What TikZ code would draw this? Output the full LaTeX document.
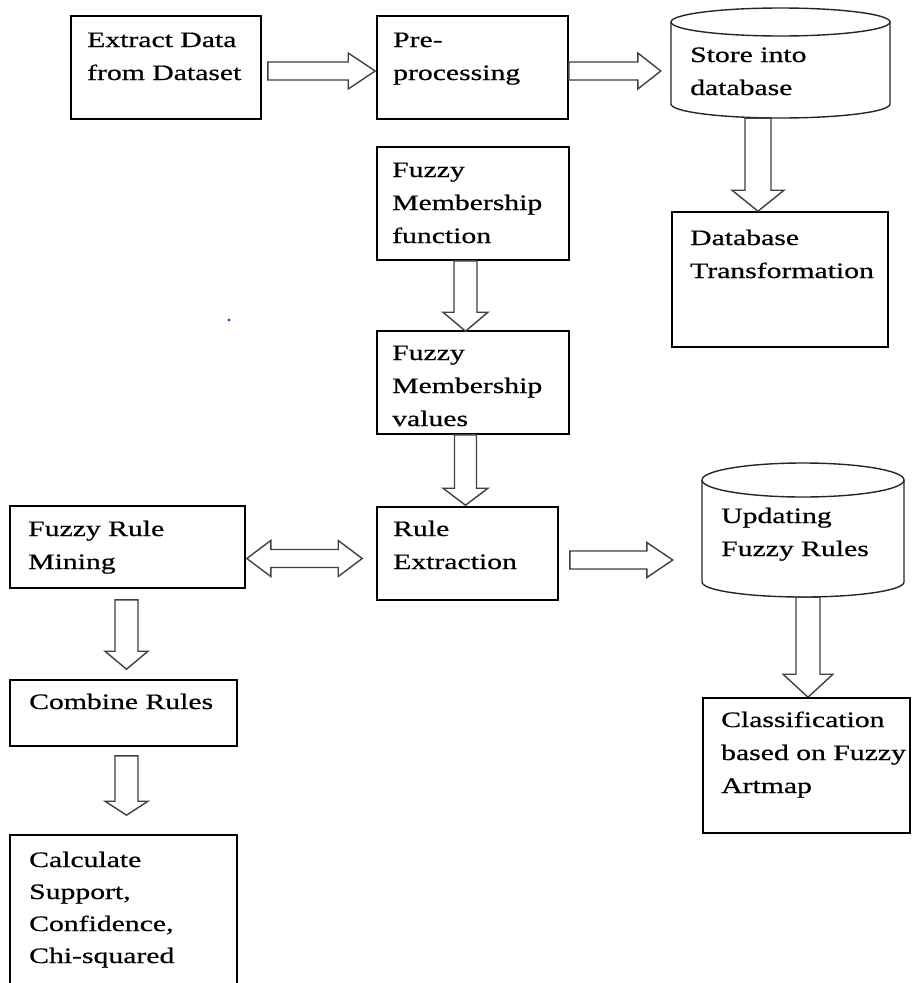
\documentclass[tikz,border=0pt]{standalone}
\usepackage{fontspec}
\setmainfont{Liberation Serif}[FakeStretch=1.35,FakeBold=0.6]
\usetikzlibrary{calc}
\newcommand\ml[1]{\begin{tabular}[t]{@{}l@{}}#1\end{tabular}}
% right-pointing block arrow: #1 start, #2 tip, #3 half shaft, #4 half head, #5 head length
\newcommand\rarrow[5]{%
 \draw[barrow] let \p1=#1, \p2=#2 in (\x1,\y2+#3) -- (\x2-#5,\y2+#3) -- (\x2-#5,\y2+#4) -- (\x2,\y2) -- (\x2-#5,\y2-#4) -- (\x2-#5,\y2-#3) -- (\x1,\y2-#3) -- cycle;}
% downward block arrow
\newcommand\darrow[5]{%
 \draw[barrow] let \p1=#1, \p2=#2 in (\x2-#3,\y1) -- (\x2-#3,\y2+#5) -- (\x2-#4,\y2+#5) -- (\x2,\y2) -- (\x2+#4,\y2+#5) -- (\x2+#3,\y2+#5) -- (\x2+#3,\y1) -- cycle;}
% double-headed horizontal block arrow: #1 left tip, #2 right tip
\newcommand\lrarrow[5]{%
 \draw[barrow] let \p1=#1, \p2=#2 in (\x1,\y1) -- (\x1+#5,\y1+#4) -- (\x1+#5,\y1+#3) -- (\x2-#5,\y1+#3) -- (\x2-#5,\y1+#4) -- (\x2,\y1) -- (\x2-#5,\y1-#4) -- (\x2-#5,\y1-#3) -- (\x1+#5,\y1-#3) -- (\x1+#5,\y1-#4) -- cycle;}
\begin{document}
\begin{tikzpicture}[x=1pt,y=-1pt,
  box/.style={draw=black, line width=1.6pt, fill=white, inner sep=0pt},
  ghost/.style={inner sep=0pt},
  txt/.style={inner sep=0pt, anchor=base west, font=\fontsize{22}{33}\selectfont, text=black},
  barrow/.style={draw=black!75, fill=white, line width=1.4pt, line join=miter},
  cyl/.style={draw=black!85, line width=1.4pt, fill=white}]
\useasboundingbox (0,0) rectangle (911,983);
\clip (0,0) rectangle (911,983);
\fill[white] (0,0) rectangle (911,983);

% boxes
\node[box, minimum width=190pt, minimum height=103pt] (ex) at (166,67.5) {};
\node[box, minimum width=191pt, minimum height=103pt] (pre) at (472.5,67.5) {};
\node[ghost, minimum width=219pt, minimum height=110pt] (store) at (780.5,63) {};
\node[box, minimum width=192pt, minimum height=113pt] (fmf) at (473,203.5) {};
\node[box, minimum width=216pt, minimum height=135pt] (dbt) at (780,279.5) {};
\node[box, minimum width=192pt, minimum height=103pt] (fmv) at (473,382.5) {};
\node[box, minimum width=235pt, minimum height=82pt] (frm) at (127.5,547) {};
\node[box, minimum width=181pt, minimum height=93pt] (rex) at (467.5,553.5) {};
\node[ghost, minimum width=202pt, minimum height=134pt] (upd) at (803,530) {};
\node[box, minimum width=227pt, minimum height=66pt] (cmb) at (123.5,713) {};
\node[box, minimum width=207pt, minimum height=135pt] (cls) at (806.5,765.5) {};
\node[box, minimum width=227pt, minimum height=160pt] (calc) at (123.5,915) {};

% cylinders
\draw[cyl] (671,22) -- (671,104) arc[start angle=180, end angle=360, x radius=109.5pt, y radius=14pt] -- (890,22);
\draw[cyl] (780.5,22) ellipse [x radius=109.5pt, y radius=14pt];
\draw[cyl] (702,480) -- (702,582) arc[start angle=180, end angle=360, x radius=101pt, y radius=15pt] -- (904,480);
\draw[cyl] (803,480) ellipse [x radius=101pt, y radius=17pt];

% texts
\node[txt] (ex-t) at (87,47) {\ml{Extract Data\\from Dataset}};
\node[txt] (pre-t) at (393,47) {\ml{Pre-\\processing}};
\node[txt] (store-t) at (690,62) {\ml{Store into\\database}};
\node[txt] (fmf-t) at (392,177) {\ml{Fuzzy\\Membership\\function}};
\node[txt] (dbt-t) at (690,245) {\ml{Database\\Transformation}};
\node[txt] (fmv-t) at (392,360) {\ml{Fuzzy\\Membership\\values}};
\node[txt] (frm-t) at (28,536) {\ml{Fuzzy Rule\\Mining}};
\node[txt] (rex-t) at (393,536) {\ml{Rule\\Extraction}};
\node[txt] (upd-t) at (721,523) {\ml{Updating\\Fuzzy Rules}};
\node[txt] (cmb-t) at (29,709) {\ml{Combine Rules}};
\node[txt] (cls-t) at (721,727) {\ml{Classification\\based on Fuzzy\\Artmap}};
\node[txt, font=\fontsize{22}{32}\selectfont] (calc-t) at (29,867) {\ml{Calculate\\Support,\\Confidence,\\Chi-squared}};

% block arrows
\rarrow{($(ex.east)+(6,0)$)}{($(pre.west)+(-1,3.5)$)}{9}{18}{27}
\rarrow{(pre.east)}{($(store.west)+(-10,8)$)}{9}{18}{23}
\darrow{(store.south)}{($(dbt.north)+(-22,0)$)}{13}{26}{21}
\darrow{(fmf.south)}{($(fmv.north)+(-7.5,1)$)}{11.5}{22.5}{19}
\darrow{(fmv.south)}{($(rex.north)+(-2,-1)$)}{11}{22.5}{17}
\lrarrow{($(frm.east)+(1,11.5)$)}{($(rex.west)+(-14,5)$)}{9}{18}{24}
\rarrow{($(rex.east)+(11,0)$)}{($(upd.west)+(-29,30)$)}{9}{17.5}{26}
\darrow{(upd.south)}{($(cls.north)+(1.5,0)$)}{12}{25}{23}
\darrow{($(frm.south)+(0,11)$)}{($(cmb.north)+(3,-10)$)}{11.5}{21.5}{18}
\darrow{($(cmb.south)+(0,9)$)}{($(calc.north)+(3,-19)$)}{11.5}{21.5}{14}

% stray dot
\fill[blue!80] (229,320) circle[radius=1.6pt];
\end{tikzpicture}
\end{document}
